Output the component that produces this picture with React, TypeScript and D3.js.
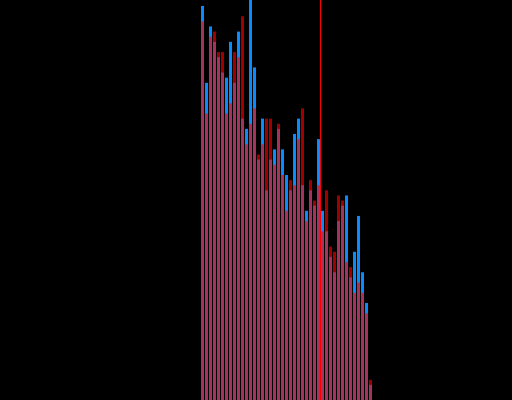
import React, { useRef, useEffect } from 'react';
import * as d3 from 'd3';

const categories: number[] = d3.range(43);

const blueValues: number[] = [
  78, 63, 74, 71, 68, 65, 64, 71, 63, 73, 56, 54, 82, 66, 48, 56, 42, 48, 50, 54, 50, 45,
  42, 53, 56, 43, 38, 42, 39, 52, 38, 34, 29, 26, 36, 39, 41, 25, 30, 37, 26, 20, 4,
];

const redValues: number[] = [
  75, 57, 72, 73, 69, 69, 57, 59, 69, 68, 76, 51, 55, 58, 49, 51, 56, 56, 47, 55, 45, 38,
  44, 43, 52, 58, 36, 44, 40, 43, 34, 42, 31, 30, 41, 40, 28, 27, 22, 24, 22, 18, 5,
];

const markerCategory = 30;

const W = 512;
const H = 400;

const App = () => {
  const svgRef = useRef<SVGSVGElement | null>(null);

  useEffect(() => {
    const svg = d3.select(svgRef.current);
    svg.selectAll('*').remove();

    const x = d3
      .scaleBand<number>()
      .domain(categories)
      .range([201, 372])
      .paddingInner(0.25)
      .paddingOuter(0);

    const y = d3.scaleLinear().domain([0, 78]).range([405.4, 6]);

    svg.append('rect').attr('width', W).attr('height', H).attr('fill', '#000');

    // blue series, opaque
    svg
      .append('g')
      .selectAll('rect')
      .data(categories)
      .enter()
      .append('rect')
      .attr('x', (d) => x(d)!)
      .attr('y', (d) => y(blueValues[d]))
      .attr('width', x.bandwidth())
      .attr('height', (d) => y(0) - y(blueValues[d]))
      .attr('fill', '#0a8aff');

    // red series on top, see-through
    svg
      .append('g')
      .selectAll('rect')
      .data(categories)
      .enter()
      .append('rect')
      .attr('x', (d) => x(d)!)
      .attr('y', (d) => y(redValues[d]))
      .attr('width', x.bandwidth())
      .attr('height', (d) => y(0) - y(redValues[d]))
      .attr('fill', '#ff0000')
      .attr('fill-opacity', 0.63);

    const mx = x(markerCategory)! - 0.5;
    svg
      .append('line')
      .attr('x1', mx)
      .attr('x2', mx)
      .attr('y1', 0)
      .attr('y2', H)
      .attr('stroke', '#ff0000')
      .attr('stroke-width', 1);
  }, []);

  return (
    <svg
      ref={svgRef}
      width={W}
      height={H}
      style={{ position: 'absolute', left: 0, top: 0, display: 'block' }}
    ></svg>
  );
};

export default App;
